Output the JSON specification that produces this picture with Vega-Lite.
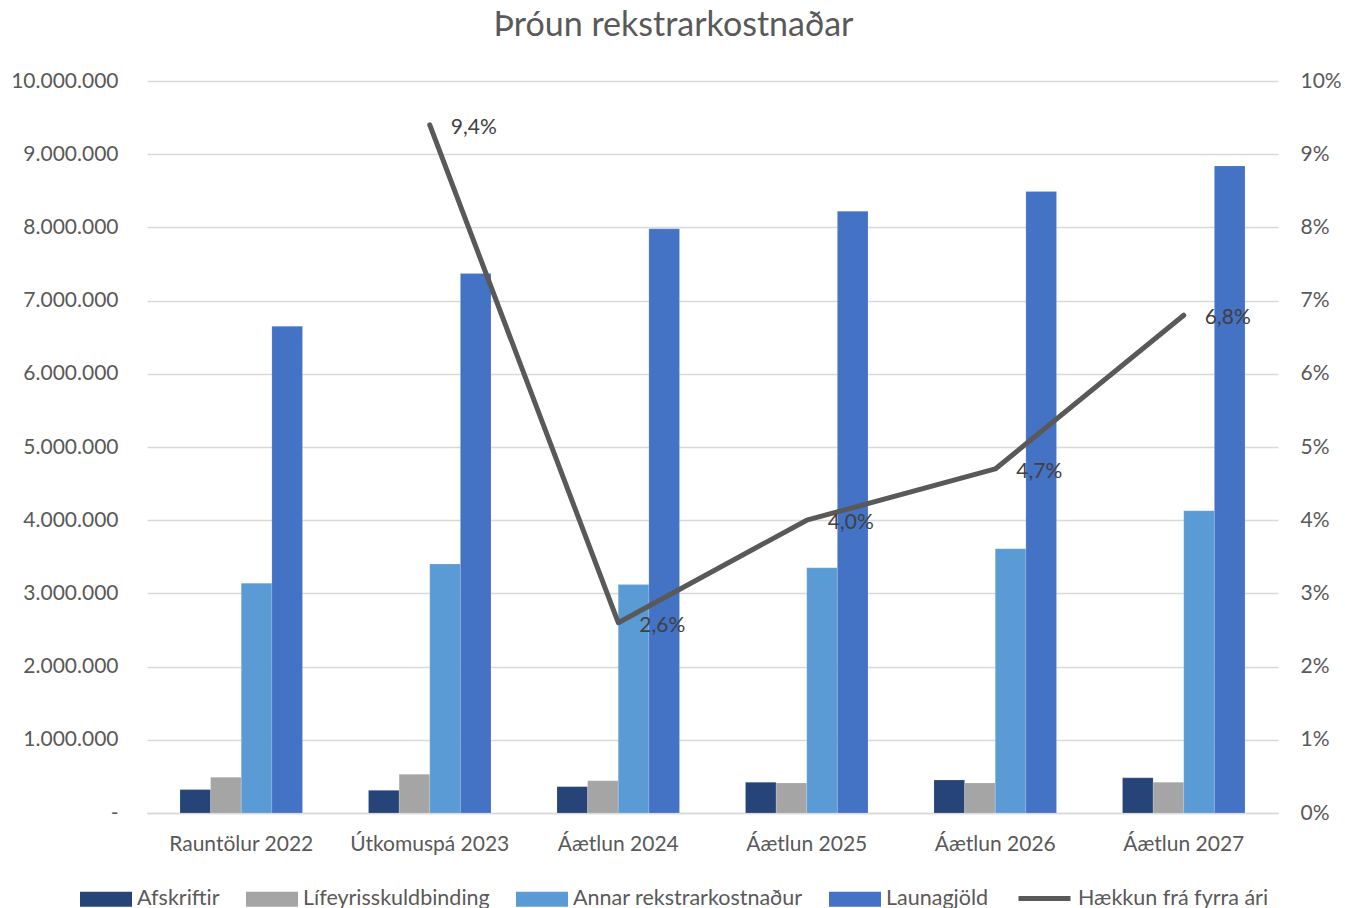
{
  "$schema": "https://vega.github.io/schema/vega-lite/v6.json",
  "width": 1131,
  "height": 732,
  "autosize": {"type": "none"},
  "padding": {"left": 147, "top": 81, "right": 67, "bottom": 95},
  "background": "white",
  "title": {"text": "Þróun rekstrarkostnaðar", "anchor": "middle", "dx": -39, "offset": 27, "fontSize": 34, "font": "Lato", "fontWeight": "normal", "color": "#595959"},
  "config": {
    "locale": {"number": {"decimal": ",", "thousands": ".", "grouping": [3], "currency": ["", ""]}},
    "view": {"stroke": null},
    "font": "Lato"
  },
  "datasets": {
    "bars": [
      {"flokkur": "Rauntölur 2022", "series": "Afskriftir", "value": 320000},
      {"flokkur": "Rauntölur 2022", "series": "Lífeyrisskuldbinding", "value": 490000},
      {"flokkur": "Rauntölur 2022", "series": "Annar rekstrarkostnaður", "value": 3140000},
      {"flokkur": "Rauntölur 2022", "series": "Launagjöld", "value": 6650000},
      {"flokkur": "Útkomuspá 2023", "series": "Afskriftir", "value": 310000},
      {"flokkur": "Útkomuspá 2023", "series": "Lífeyrisskuldbinding", "value": 530000},
      {"flokkur": "Útkomuspá 2023", "series": "Annar rekstrarkostnaður", "value": 3400000},
      {"flokkur": "Útkomuspá 2023", "series": "Launagjöld", "value": 7370000},
      {"flokkur": "Áætlun 2024", "series": "Afskriftir", "value": 360000},
      {"flokkur": "Áætlun 2024", "series": "Lífeyrisskuldbinding", "value": 440000},
      {"flokkur": "Áætlun 2024", "series": "Annar rekstrarkostnaður", "value": 3120000},
      {"flokkur": "Áætlun 2024", "series": "Launagjöld", "value": 7980000},
      {"flokkur": "Áætlun 2025", "series": "Afskriftir", "value": 420000},
      {"flokkur": "Áætlun 2025", "series": "Lífeyrisskuldbinding", "value": 410000},
      {"flokkur": "Áætlun 2025", "series": "Annar rekstrarkostnaður", "value": 3350000},
      {"flokkur": "Áætlun 2025", "series": "Launagjöld", "value": 8220000},
      {"flokkur": "Áætlun 2026", "series": "Afskriftir", "value": 450000},
      {"flokkur": "Áætlun 2026", "series": "Lífeyrisskuldbinding", "value": 410000},
      {"flokkur": "Áætlun 2026", "series": "Annar rekstrarkostnaður", "value": 3610000},
      {"flokkur": "Áætlun 2026", "series": "Launagjöld", "value": 8490000},
      {"flokkur": "Áætlun 2027", "series": "Afskriftir", "value": 480000},
      {"flokkur": "Áætlun 2027", "series": "Lífeyrisskuldbinding", "value": 420000},
      {"flokkur": "Áætlun 2027", "series": "Annar rekstrarkostnaður", "value": 4130000},
      {"flokkur": "Áætlun 2027", "series": "Launagjöld", "value": 8840000}
    ],
    "line": [
      {"flokkur": "Útkomuspá 2023", "series": "Hækkun frá fyrra ári", "pct": 0.094},
      {"flokkur": "Áætlun 2024", "series": "Hækkun frá fyrra ári", "pct": 0.026},
      {"flokkur": "Áætlun 2025", "series": "Hækkun frá fyrra ári", "pct": 0.040},
      {"flokkur": "Áætlun 2026", "series": "Hækkun frá fyrra ári", "pct": 0.047},
      {"flokkur": "Áætlun 2027", "series": "Hækkun frá fyrra ári", "pct": 0.068}
    ]
  },
  "encoding": {
    "x": {
      "field": "flokkur", "type": "nominal", "sort": null,
      "scale": {"domain": ["Rauntölur 2022", "Útkomuspá 2023", "Áætlun 2024", "Áætlun 2025", "Áætlun 2026", "Áætlun 2027"], "paddingInner": 0.35, "paddingOuter": 0.175},
      "axis": {"title": null, "labelAngle": 0, "labelFontSize": 21, "labelColor": "#595959", "labelPadding": 20, "ticks": false, "domainColor": "#D9D9D9", "domainWidth": 1.5, "grid": false}
    }
  },
  "layer": [
    {
      "data": {"name": "bars"},
      "mark": {"type": "bar", "stroke": "white", "strokeOpacity": 0.3, "strokeWidth": 0.5},
      "encoding": {
        "xOffset": {"field": "series", "type": "nominal", "sort": ["Afskriftir", "Lífeyrisskuldbinding", "Annar rekstrarkostnaður", "Launagjöld"], "scale": {"paddingInner": 0, "paddingOuter": 0}},
        "y": {
          "field": "value", "type": "quantitative",
          "scale": {"domain": [0, 10000000]},
          "axis": {"title": null, "values": [0,1000000,2000000,3000000,4000000,5000000,6000000,7000000,8000000,9000000,10000000], "format": ",.0f", "labelExpr": "datum.value == 0 ? '-' : datum.label", "labelOverlap": false, "labelFontSize": 21, "labelColor": "#595959", "labelPadding": 29, "ticks": false, "domain": false, "gridColor": "#D9D9D9", "gridWidth": 1.5}
        },
        "fill": {
          "field": "series", "type": "nominal",
          "scale": {"domain": ["Afskriftir", "Lífeyrisskuldbinding", "Annar rekstrarkostnaður", "Launagjöld"], "range": ["#264478", "#A5A5A5", "#5B9BD5", "#4472C4"]},
          "legend": {
            "orient": "none", "legendX": -67, "legendY": 792, "direction": "horizontal", "title": null,
            "labelFontSize": 21.5, "labelColor": "#595959", "labelOffset": 5, "labelLimit": 500, "columnPadding": 26,
            "symbolSize": 2704, "symbolType": "M-1,-0.29H1V0.29H-1Z", "symbolStrokeWidth": 0, "symbolOpacity": 1
          }
        }
      }
    },
    {
      "data": {"name": "line"},
      "layer": [
        {
          "mark": {"type": "line", "strokeWidth": 5, "strokeCap": "round", "strokeJoin": "round"},
          "encoding": {
            "y": {"field": "pct", "type": "quantitative", "scale": {"domain": [0, 0.1]},
              "axis": {"orient": "right", "title": null, "values": [0,0.01,0.02,0.03,0.04,0.05,0.06,0.07,0.08,0.09,0.1], "format": ".0%", "labelOverlap": false, "labelFontSize": 21, "labelColor": "#595959", "labelPadding": 22, "ticks": false, "domain": false, "grid": false}},
            "stroke": {
              "field": "series", "type": "nominal",
              "scale": {"domain": ["Hækkun frá fyrra ári"], "range": ["#595959"]},
              "legend": {
                "orient": "none", "legendX": 869, "legendY": 789, "direction": "horizontal", "title": null,
                "labelFontSize": 21.5, "labelColor": "#595959", "labelOffset": 5, "labelLimit": 500,
                "symbolType": "stroke", "symbolSize": 2704, "symbolStrokeWidth": 5
              }
            }
          }
        },
        {
          "mark": {"type": "text", "align": "left", "baseline": "middle", "dx": 21, "dy": 3, "fontSize": 21, "color": "#404040"},
          "encoding": {
            "y": {"field": "pct", "type": "quantitative"},
            "text": {"field": "pct", "type": "quantitative", "format": ".1%"}
          }
        }
      ]
    }
  ],
  "resolve": {"scale": {"y": "independent"}}
}
